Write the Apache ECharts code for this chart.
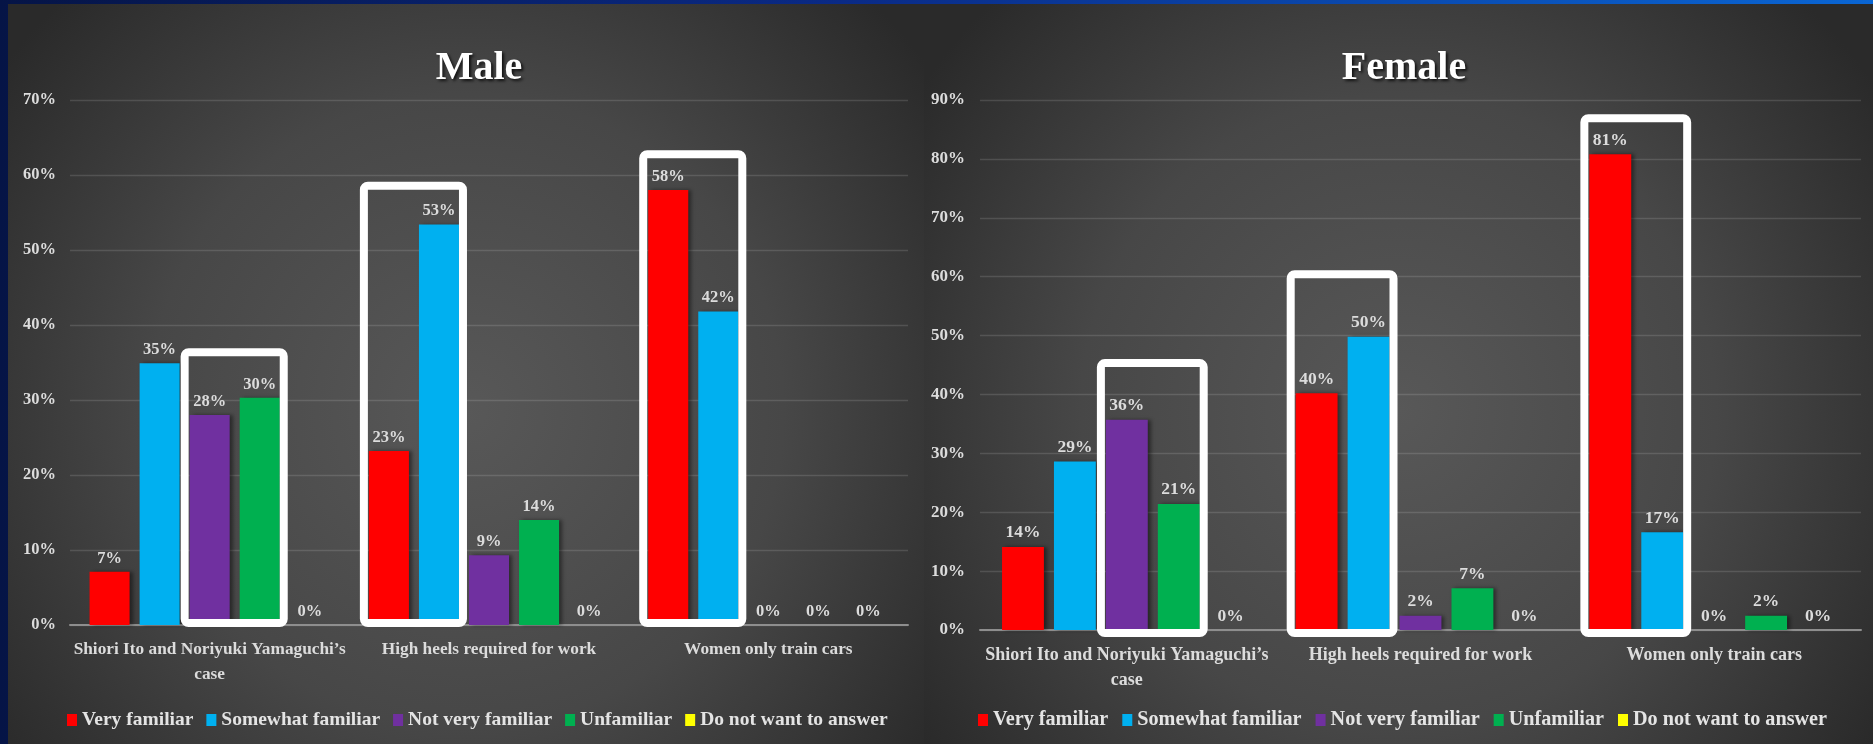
<!DOCTYPE html>
<html>
<head>
<meta charset="utf-8">
<script src="https://cdn.jsdelivr.net/npm/echarts@6/dist/echarts.min.js"></script>
<style>
html,body{margin:0;padding:0;background:#071850;overflow:hidden}
#c{width:1873px;height:744px}
</style>
</head>
<body>
<div id="c"></div>
<script>
// ---- data ----
const categories = ['Shiori Ito and Noriyuki Yamaguchi’s case', 'High heels required for work', 'Women only train cars'];
const seriesNames = ['Very familiar', 'Somewhat familiar', 'Not very familiar', 'Unfamiliar', 'Do not want to answer'];

const maleVeryFamiliar      = [7.1, 23.2, 58.0];
const maleSomewhatFamiliar  = [34.9, 53.4, 41.8];
const maleNotVeryFamiliar   = [28.0, 9.3, 0];
const maleUnfamiliar        = [30.3, 14.0, 0];
const maleNoAnswer          = [0, 0, 0];

const femaleVeryFamiliar     = [14.1, 40.2, 80.8];
const femaleSomewhatFamiliar = [28.6, 49.8, 16.6];
const femaleNotVeryFamiliar  = [35.7, 2.4, 0];
const femaleUnfamiliar       = [21.4, 7.1, 2.4];
const femaleNoAnswer         = [0, 0, 0];

const chartTitles = ['Male', 'Female'];
const maleAxisMax = 70;
const femaleAxisMax = 90;

// highlighted groups: category index, first/last series index, box top (value units)
const maleBoxes   = [{cat: 0, from: 2, to: 3, top: 36.9}, {cat: 1, from: 0, to: 1, top: 59.1}, {cat: 2, from: 0, to: 1, top: 63.3}];
const femaleBoxes = [{cat: 0, from: 2, to: 3, top: 46.0}, {cat: 1, from: 0, to: 1, top: 61.1}, {cat: 2, from: 0, to: 1, top: 87.6}];

// ---- styling ----
const colors = ['#FF0000', '#00B0F0', '#7030A0', '#00B050', '#FFFF00'];
const FONT = "'Liberation Serif', 'Times New Roman', serif";
const TXT = '#dcdcdc';

const maleData = [maleVeryFamiliar, maleSomewhatFamiliar, maleNotVeryFamiliar, maleUnfamiliar, maleNoAnswer];
const femaleData = [femaleVeryFamiliar, femaleSomewhatFamiliar, femaleNotVeryFamiliar, femaleUnfamiliar, femaleNoAnswer];

function makeSeries(dataSets, idx, labelSize, gap, catGap) {
  return dataSets.map((d, i) => ({
    type: 'bar',
    name: seriesNames[i],
    data: d,
    xAxisIndex: idx,
    yAxisIndex: idx,
    barGap: gap,
    barCategoryGap: catGap,
    itemStyle: {color: colors[i], shadowColor: 'rgba(0,0,0,0.45)', shadowBlur: 4, shadowOffsetX: 3, shadowOffsetY: 0},
    label: {
      show: true, position: 'top', distance: 5,
      formatter: p => Math.round(p.value) + '%',
      color: TXT, fontFamily: FONT, fontWeight: 'bold', fontSize: labelSize
    }
  }));
}

function panelGradient() {
  return new echarts.graphic.RadialGradient(0.5, 0.55, 0.78, [
    {offset: 0, color: '#585858'},
    {offset: 0.55, color: '#474747'},
    {offset: 1, color: '#2a2a2a'}
  ]);
}

const bgGraphics = [
  {type: 'rect', id: 'bgBlue', z: -100, silent: true, shape: {x: 0, y: 0, width: 1873, height: 744},
   style: {fill: new echarts.graphic.LinearGradient(0, 0, 1, 0, [
     {offset: 0, color: '#051446'}, {offset: 0.45, color: '#0a2a86'}, {offset: 1, color: '#0a66d4'}])}},
  {type: 'rect', id: 'bgMale', z: -90, silent: true, shape: {x: 8, y: 4, width: 916, height: 740}, style: {fill: panelGradient()}},
  {type: 'rect', id: 'bgFemale', z: -90, silent: true, shape: {x: 924, y: 4, width: 949, height: 740}, style: {fill: panelGradient()}}
];

function xAxisCfg(idx, fontSize, margin) {
  return {
    type: 'category', gridIndex: idx, data: categories,
    axisTick: {show: false},
    axisLine: {lineStyle: {color: '#8e8e8e', width: 2}},
    axisLabel: {
      interval: 0, margin: margin, color: TXT, fontFamily: FONT, fontWeight: 'bold',
      fontSize: fontSize, lineHeight: 25,
      formatter: v => v.replace(' case', '\ncase')
    }
  };
}
function yAxisCfg(idx, max, fontSize, margin) {
  return {
    type: 'value', gridIndex: idx, min: 0, max: max, interval: 10,
    axisLine: {show: false}, axisTick: {show: false},
    splitLine: {lineStyle: {color: 'rgba(255,255,255,0.13)', width: 1.3}},
    axisLabel: {formatter: '{value}%', margin: margin, color: TXT, fontFamily: FONT, fontWeight: 'bold', fontSize: fontSize}
  };
}
function legendCfg(left, fontSize, gap) {
  return {
    data: seriesNames, left: left, top: 708, padding: 0, icon: 'rect',
    itemWidth: 10, itemHeight: 12, itemGap: gap, selectedMode: false,
    textStyle: {color: '#e4e4e4', fontFamily: FONT, fontWeight: 'bold', fontSize: fontSize, lineHeight: 24}
  };
}
function titleCfg(text, center) {
  return {
    text: text, left: center, top: 43, textAlign: 'center',
    textStyle: {color: '#ffffff', fontFamily: FONT, fontWeight: 'bold', fontSize: 40, lineHeight: 42,
      textShadowColor: 'rgba(0,0,0,0.75)', textShadowBlur: 3, textShadowOffsetX: 2, textShadowOffsetY: 2}
  };
}

const chart = echarts.init(document.getElementById('c'), null, {renderer: 'canvas'});
const option = {
  animation: false,
  backgroundColor: 'transparent',
  title: [titleCfg(chartTitles[0], 474), titleCfg(chartTitles[1], 1399)],
  legend: [legendCfg(67, 19.5, 13), legendCfg(978, 20.2, 14)],
  grid: [
    {left: 70, right: 965, top: 100, bottom: 119, containLabel: false},
    {left: 980, right: 12, top: 100, bottom: 114, containLabel: false}
  ],
  xAxis: [xAxisCfg(0, 17.3, 12), xAxisCfg(1, 18, 13)],
  yAxis: [yAxisCfg(0, maleAxisMax, 16.5, 14), yAxisCfg(1, femaleAxisMax, 17, 15)],
  graphic: {elements: bgGraphics},
  series: [].concat(makeSeries(maleData, 0, 16.5, '25%', '14%'), makeSeries(femaleData, 1, 17.5, '24%', '15%'))
};
chart.setOption(option);

function boxGraphics(chartIdx, seriesOffset, boxes, bottomPad) {
  const model = chart.getModel();
  const axisY = chart.convertToPixel({yAxisIndex: chartIdx}, 0);
  return boxes.map((b, i) => {
    const l1 = model.getSeriesByIndex(seriesOffset + b.from).getData().getItemLayout(b.cat);
    const l2 = model.getSeriesByIndex(seriesOffset + b.to).getData().getItemLayout(b.cat);
    const left = Math.min(l1.x, l1.x + l1.width) - 9;
    const right = Math.max(l2.x, l2.x + l2.width) + 8;
    const top = chart.convertToPixel({yAxisIndex: chartIdx}, b.top);
    const bottom = axisY + bottomPad;
    return {
      type: 'rect', id: 'box' + chartIdx + '_' + i, z: 50, silent: true,
      shape: {x: left + 4, y: top + 4, width: right - left - 8, height: bottom - top - 8, r: 4},
      style: {fill: 'none', stroke: '#ffffff', lineWidth: 8}
    };
  });
}
chart.setOption({graphic: {elements: bgGraphics.concat(boxGraphics(0, 0, maleBoxes, 2), boxGraphics(1, 5, femaleBoxes, 7))}});
</script>
</body>
</html>
